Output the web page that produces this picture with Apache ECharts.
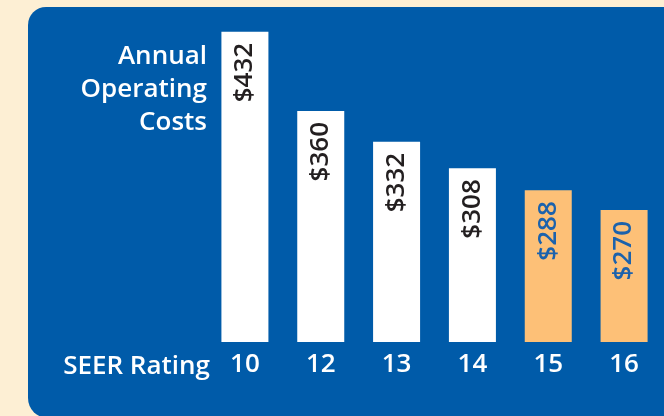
<!DOCTYPE html>
<html>
<head>
<meta charset="utf-8">
<script src="https://cdn.jsdelivr.net/npm/echarts@6/dist/echarts.min.js"></script>
<style>
html,body{margin:0;padding:0;background:#FDEFD4;}
#chart{width:664px;height:416px;}
</style>
</head>
<body>
<div id="chart"></div>
<script>
const categories = ['10', '12', '13', '14', '15', '16'];
const costs = [432, 360, 332, 308, 288, 270];
const highlighted = [false, false, false, false, true, true];
const yTitle = 'Annual\nOperating\nCosts';
const xTitle = 'SEER Rating';

const BLUE = '#005BA9';
const ORANGE = '#FDC077';
const FONT = '"Open Sans", "Noto Sans", sans-serif';

const chart = echarts.init(document.getElementById('chart'), null, {renderer: 'canvas'});

const data = costs.map((v, i) => ({
  value: v,
  itemStyle: {color: highlighted[i] ? ORANGE : '#FFFFFF'},
  label: {color: highlighted[i] ? '#1C62AC' : '#231F20'}
}));

chart.setOption({
  backgroundColor: '#FDEFD4',
  animation: false,
  graphic: [
    {type: 'rect', z: -10, shape: {x: 28, y: 7, width: 700, height: 411, r: [18, 0, 0, 20]}, style: {fill: BLUE}},
    {type: 'text', z: 10, style: {text: yTitle, x: 207, y: 40, textAlign: 'right', textVerticalAlign: 'top', fill: '#FFFFFF', font: '600 26px ' + FONT, lineHeight: 33}},
    {type: 'text', z: 10, style: {text: xTitle, x: 210, y: 367, textAlign: 'right', textVerticalAlign: 'middle', fill: '#FFFFFF', font: '600 26px ' + FONT}}
  ],
  grid: {left: 207, right: 2, top: 23, bottom: 74},
  xAxis: {
    type: 'category',
    data: categories,
    axisLine: {show: false},
    axisTick: {show: false},
    axisLabel: {color: '#FFFFFF', fontFamily: FONT, fontWeight: 600, fontSize: 26, margin: 10}
  },
  yAxis: {
    type: 'value',
    min: 150,
    max: 440,
    show: false,
    splitLine: {show: false}
  },
  series: [{
    type: 'bar',
    data: data,
    barWidth: 47,
    label: {
      show: true,
      position: 'insideTop',
      distance: 11,
      rotate: 90,
      align: 'right',
      verticalAlign: 'middle',
      fontFamily: FONT,
      fontWeight: 600,
      fontSize: 26,
      formatter: p => '$' + p.value
    }
  }]
});
</script>
</body>
</html>
